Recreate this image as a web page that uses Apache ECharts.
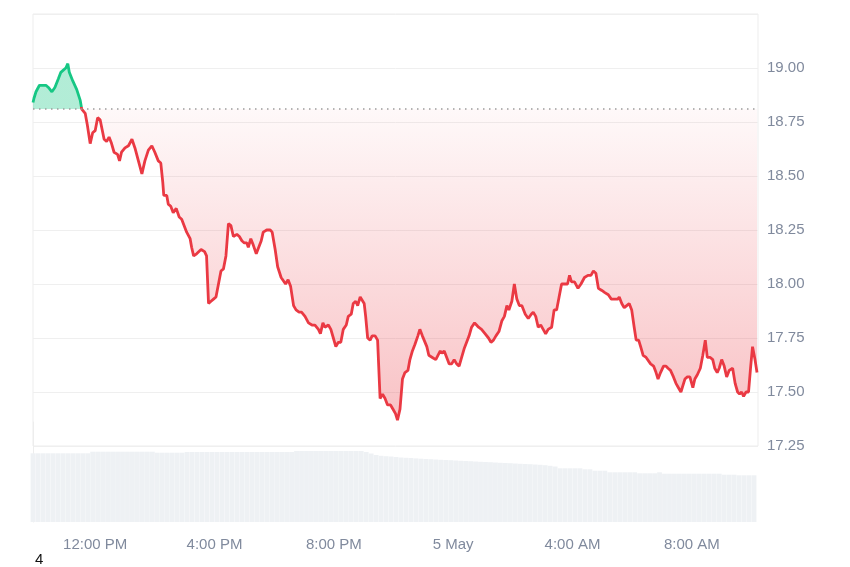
<!DOCTYPE html>
<html>
<head>
<meta charset="utf-8">
<script src="https://cdn.jsdelivr.net/npm/echarts@6/dist/echarts.min.js"></script>
<style>
html,body{margin:0;padding:0;background:#fff;}
#chart{width:850px;height:567px;}
</style>
</head>
<body>
<div id="chart"></div>
<script>
// minutes since 09:55 (4 May)
const priceTimes = [0,2,6,13,21,26,31,38,44,51,56,61,66,70,73,80,88,95,98,105,109,115,120,125,130,135,139,143,148,153,158,163,170,174,178,185,192,199,205,212,219,225,232,239,245,252,257,261,263,269,272,277,282,288,294,299,304,309,316,319,323,329,338,345,349,353,358,363,368,373,378,383,388,393,398,403,410,415,420,425,430,433,438,443,449,453,459,463,470,477,481,487,492,499,503,508,513,518,524,529,535,540,547,554,561,567,574,578,583,587,594,599,604,609,614,619,624,630,634,640,644,649,653,658,662,666,669,673,678,682,688,693,698,703,708,713,719,724,729,733,738,743,748,754,758,763,768,774,778,783,787,792,796,803,810,814,819,822,827,832,837,842,847,852,857,862,867,872,877,882,888,892,896,902,909,916,921,926,931,937,943,948,953,957,963,968,973,978,983,990,996,1002,1006,1011,1016,1021,1026,1031,1036,1043,1048,1053,1058,1063,1070,1075,1079,1083,1089,1096,1102,1109,1116,1122,1127,1132,1137,1144,1150,1157,1163,1169,1176,1179,1184,1189,1194,1199,1204,1209,1213,1218,1222,1227,1233,1237,1242,1248,1253,1257,1262,1268,1273,1277,1282,1288,1293,1298,1303,1307,1311,1316,1321,1327,1331,1336,1342,1347,1352,1356,1362,1367,1371,1376,1380,1385,1390,1395,1400,1407,1412,1417,1421,1425,1429,1434,1439,1443,1447,1452,1456];
const prices = [18.84,18.86,18.89,18.92,18.92,18.92,18.91,18.89,18.91,18.95,18.98,18.99,19.00,19.02,18.98,18.94,18.90,18.85,18.81,18.79,18.74,18.65,18.70,18.71,18.77,18.76,18.76,18.67,18.66,18.68,18.65,18.61,18.60,18.57,18.61,18.63,18.64,18.67,18.63,18.57,18.51,18.57,18.62,18.64,18.61,18.57,18.56,18.47,18.41,18.41,18.37,18.36,18.33,18.35,18.31,18.30,18.27,18.24,18.21,18.17,18.13,18.14,18.16,18.15,18.13,17.91,17.92,17.93,17.94,18.00,18.06,18.07,18.13,18.28,18.27,18.22,18.23,18.22,18.20,18.19,18.19,18.17,18.21,18.18,18.14,18.14,18.20,18.24,18.25,18.25,18.24,18.16,18.08,18.03,18.03,18.00,18.02,17.99,17.90,17.88,17.87,17.87,17.85,17.82,17.81,17.81,17.79,17.77,17.82,17.80,17.81,17.79,17.75,17.71,17.73,17.73,17.79,17.81,17.85,17.86,17.91,17.92,17.90,17.94,17.94,17.91,17.85,17.75,17.74,17.76,17.76,17.74,17.47,17.49,17.47,17.44,17.44,17.42,17.40,17.37,17.42,17.56,17.59,17.60,17.65,17.69,17.72,17.76,17.79,17.76,17.76,17.71,17.67,17.66,17.65,17.65,17.69,17.68,17.69,17.66,17.63,17.63,17.65,17.63,17.62,17.66,17.70,17.73,17.76,17.80,17.82,17.81,17.80,17.79,17.77,17.75,17.73,17.74,17.76,17.78,17.83,17.85,17.90,17.88,17.92,18.00,17.93,17.90,17.90,17.86,17.84,17.86,17.87,17.85,17.80,17.81,17.79,17.77,17.79,17.80,17.88,17.88,17.94,18.00,18.00,18.00,18.04,18.01,18.01,17.98,18.00,18.03,18.04,18.04,18.06,18.05,17.98,17.97,17.96,17.95,17.93,17.93,17.93,17.94,17.91,17.89,17.90,17.91,17.88,17.80,17.74,17.74,17.71,17.67,17.66,17.66,17.63,17.62,17.59,17.56,17.59,17.62,17.62,17.61,17.60,17.57,17.54,17.52,17.50,17.50,17.56,17.57,17.57,17.52,17.56,17.58,17.61,17.67,17.74,17.66,17.66,17.65,17.61,17.59,17.61,17.65,17.62,17.57,17.60,17.61,17.54,17.50,17.49,17.50,17.48,17.50,17.50,17.61,17.71,17.65,17.59];
const baselinePrice = 18.81;

const volumeTimes = [0,10,20,30,40,50,60,70,80,90,100,110,120,130,140,150,160,170,180,190,200,210,220,230,240,250,260,270,280,290,300,310,320,330,340,350,360,370,380,390,400,410,420,430,440,450,460,470,480,490,500,510,520,530,540,550,560,570,580,590,600,610,620,630,640,650,660,670,680,690,700,710,720,730,740,750,760,770,780,790,800,810,820,830,840,850,860,870,880,890,900,910,920,930,940,950,960,970,980,990,1000,1010,1020,1030,1040,1050,1060,1070,1080,1090,1100,1110,1120,1130,1140,1150,1160,1170,1180,1190,1200,1210,1220,1230,1240,1250,1260,1270,1280,1290,1300,1310,1320,1330,1340,1350,1360,1370,1380,1390,1400,1410,1420,1430,1440,1450];
const volumes = [6.87,6.87,6.87,6.87,6.87,6.87,6.87,6.87,6.87,6.87,6.87,6.87,
7.03,7.03,7.03,7.03,7.03,7.03,7.03,7.03,7.03,7.03,7.03,7.03,7.03,
6.93,6.93,6.93,6.93,6.93,6.93,
7.00,7.00,7.00,7.00,7.00,7.00,7.00,7.00,7.00,7.00,7.00,7.00,7.00,7.00,7.00,7.00,7.00,7.00,7.00,7.00,7.00,7.00,
7.10,7.10,7.10,7.10,7.10,7.10,7.10,7.10,7.10,7.10,7.10,7.10,7.10,7.10,
7.00,6.85,6.70,6.62,6.58,6.55,6.50,6.45,6.42,6.40,6.36,6.33,6.30,6.28,6.25,6.22,6.20,6.18,6.15,6.12,6.10,6.08,6.05,6.02,6.00,5.98,5.95,5.92,5.90,5.88,5.85,5.82,5.80,5.78,5.75,5.72,5.68,5.62,5.55,
5.37,5.37,5.37,5.37,5.37,5.27,5.27,5.13,5.13,5.13,4.97,4.97,4.97,4.97,4.97,4.97,4.87,4.87,4.87,4.87,4.97,
4.83,4.83,4.83,4.83,4.83,4.83,4.83,4.83,4.83,4.83,4.83,4.83,4.73,4.73,4.73,4.67,4.67,4.67,4.67];

const xTickMinutes = [125,365,605,845,1085,1325];
const xTickLabels = ['12:00 PM','4:00 PM','8:00 PM','5 May','4:00 AM','8:00 AM'];
const axisEndMinutes = 1458;

const priceData = priceTimes.map((t,i)=>[t, prices[i]]);
const volumeData = volumeTimes.map((t,i)=>[t, volumes[i]]);

const pMax = Math.max.apply(null, prices);
const pMin = Math.min.apply(null, prices);
const f = (pMax - baselinePrice) / (pMax - pMin);

const GREEN = '#16c784';
const RED = '#ea3943';
const labelColor = '#808a9d';
const font = 'Liberation Sans, Arial, sans-serif';

const chart = echarts.init(document.getElementById('chart'), null, {renderer:'canvas'});
chart.setOption({
  animation: false,
  backgroundColor: '#fff',
  grid: [
    {left:33, right:92, top:14, bottom:121, show:true, borderColor:'#ededed', borderWidth:1},
    {left:33, right:92, top:422, bottom:45}
  ],
  xAxis: [
    {type:'value', gridIndex:0, min:0, max:axisEndMinutes, show:false},
    {type:'value', gridIndex:1, min:0, max:axisEndMinutes,
      axisLine:{show:false}, axisTick:{show:false}, splitLine:{show:false},
      axisLabel:{customValues:xTickMinutes, margin:15, color:labelColor, fontSize:15, fontFamily:font,
        formatter:function(v){ const i = xTickMinutes.indexOf(v); return i>=0 ? xTickLabels[i] : ''; }}
    }
  ],
  yAxis: [
    {type:'value', gridIndex:0, position:'right', min:17.25, max:19.25, interval:0.25,
      axisLine:{show:false}, axisTick:{show:false},
      splitLine:{lineStyle:{color:'#efefef', width:1}},
      axisLabel:{margin:9, color:labelColor, fontSize:15, fontFamily:font,
        formatter:function(v){ return v > 19.1 ? '' : v.toFixed(2); }}
    },
    {type:'value', gridIndex:1, position:'right', min:0, max:10,
      axisLine:{show:true, lineStyle:{color:'#ededed'}}, axisTick:{show:false},
      axisLabel:{show:false}, splitLine:{show:false}
    }
  ],
  series: [
    {
      type:'bar', xAxisIndex:1, yAxisIndex:1, data:volumeData, barWidth:4.8,
      itemStyle:{color:'#eef1f4'}, silent:true
    },
    {
      type:'line', xAxisIndex:0, yAxisIndex:0, data:priceData,
      showSymbol:false, symbol:'none',
      lineStyle:{width:2.8,
        color: new echarts.graphic.LinearGradient(0,0,0,1,[
          {offset:0, color:GREEN},
          {offset:f, color:GREEN},
          {offset:f, color:RED},
          {offset:1, color:RED}
        ])
      },
      areaStyle:{
        origin: baselinePrice,
        opacity: 1,
        color: new echarts.graphic.LinearGradient(0,0,0,1,[
          {offset:0, color:'rgba(22,199,132,0.33)'},
          {offset:f, color:'rgba(22,199,132,0.33)'},
          {offset:f, color:'rgba(234,57,67,0.03)'},
          {offset:1, color:'rgba(234,57,67,0.31)'}
        ])
      },
      markLine:{
        silent:true, symbol:'none', label:{show:false},
        lineStyle:{color:'#9c9c9c', type:[1.5,4.5], width:1.5},
        data:[{yAxis:baselinePrice}]
      }
    }
  ],
  graphic: [
    {type:'text', left:35, top:552, style:{text:'4', fontSize:15, fill:'#111', fontFamily:font}}
  ]
});
</script>
</body>
</html>
